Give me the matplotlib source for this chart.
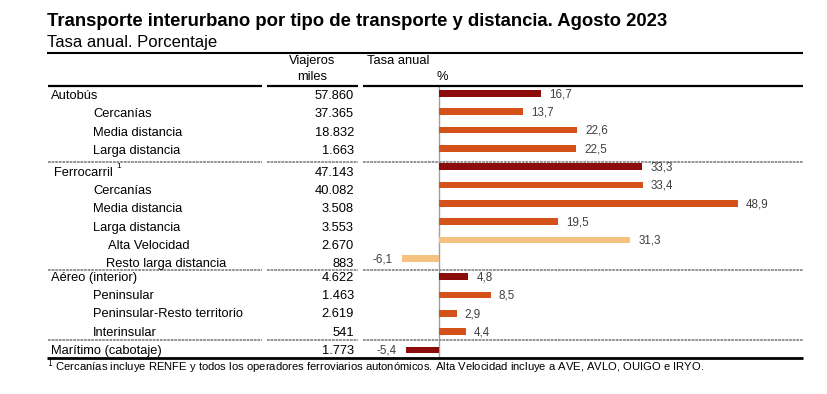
import numpy as np
import matplotlib
matplotlib.use('Agg')
import matplotlib.pyplot as plt
from matplotlib.transforms import blended_transform_factory

plt.rcParams['font.family'] = ['Liberation Sans', 'DejaVu Sans']

# ── Data ──────────────────────────────────────────────────────────────
labels = ['Autobús', 'Cercanías', 'Media distancia', 'Larga distancia',
          'Ferrocarril', 'Cercanías', 'Media distancia', 'Larga distancia',
          'Alta Velocidad', 'Resto larga distancia',
          'Aéreo (interior)', 'Peninsular', 'Peninsular-Resto territorio',
          'Interinsular', 'Marítimo (cabotaje)']
viajeros = ['57.860', '37.365', '18.832', '1.663',
            '47.143', '40.082', '3.508', '3.553', '2.670', '883',
            '4.622', '1.463', '2.619', '541', '1.773']
tasa = [16.7, 13.7, 22.6, 22.5,
        33.3, 33.4, 48.9, 19.5, 31.3, -6.1,
        4.8, 8.5, 2.9, 4.4, -5.4]
level = [0, 1, 1, 1,
         0, 1, 1, 1, 2, 2,
         0, 1, 1, 1, 0]
group = [0, 0, 0, 0, 1, 1, 1, 1, 1, 1, 2, 2, 2, 2, 3]

# ── Layout (pixels of an 827x394 canvas) ──────────────────────────────
W, H = 827, 394
X0 = 439            # zero of the bar scale
S = 6.11            # px per percentage point
L, R = 47, 803
Y_TOP, Y_BOT = 86, 358
ROW0, ROWH = 93.3, 18.33
FS = 9.3            # table font size

COL_DARK = '#8c0c0c'
COL_MID = '#d4521a'
COL_LIGHT = '#f5c282'
indent = {0: 51, 1: 93, 2: 108}
txt_shift = {0: 0.14, 1: 0.33, 2: 0.06, 3: 0.06}

fig = plt.figure(figsize=(W / 100, H / 100), dpi=100)
ax = fig.add_axes([L / W, 1 - Y_BOT / H, (R - L) / W, (Y_BOT - Y_TOP) / H])
ax.set_xlim((L - X0) / S, (R - X0) / S)
ax.set_ylim((Y_BOT - ROW0) / ROWH, (Y_TOP - ROW0) / ROWH)
ax.axis('off')

tr = blended_transform_factory(fig.transFigure, ax.transData)
px = lambda p: p / W

rows = np.arange(len(labels))
cols = [COL_LIGHT if lv == 2 else (COL_DARK if lv == 0 else COL_MID)
        for lv in level]
ax.barh(rows, tasa, height=0.37, color=cols, zorder=3)
ax.axvline(0, color='#a0a0a0', lw=1.0, zorder=2)

for r, v in zip(rows, tasa):
    s = f'{v:.1f}'.replace('.', ',')
    if v >= 0:
        ax.annotate(s, (v, r), xytext=(8, -1), textcoords='offset pixels',
                    ha='left', va='center', fontsize=8.4, color='#404040')
    else:
        ax.annotate(s, (v, r), xytext=(-9, -1), textcoords='offset pixels',
                    ha='right', va='center', fontsize=8.4, color='#404040')

for r, (lab, num, lv, g) in enumerate(zip(labels, viajeros, level, group)):
    y = r + txt_shift[g]
    x = indent[lv]
    if lab == 'Ferrocarril':
        x = 54
    if lab == 'Resto larga distancia':
        x = 106
    ax.text(px(x), y, lab, transform=tr, ha='left', va='center', fontsize=FS)
    ax.text(px(354), y, num, transform=tr, ha='right', va='center', fontsize=FS)
ax.text(px(116), 4 + txt_shift[1] - 0.33, '1', transform=tr, ha='left',
        va='center', fontsize=6)

# separators
segs = [(48, 262), (267, 358), (363, 803)]
for ysep in [3.73, 9.64, 13.47]:
    for a, b in segs:
        ax.plot([px(a), px(b)], [ysep, ysep], transform=tr, color='#8a8a8a',
                lw=1.3, ls=(0, (1.5, 0.5)), clip_on=False)
y_head = (Y_TOP - ROW0) / ROWH
for a, b in segs:
    ax.plot([px(a), px(b)], [y_head, y_head], transform=tr, color='black',
            lw=1.6, clip_on=False, solid_capstyle='butt')
y_bot = (Y_BOT - ROW0) / ROWH
ax.plot([px(L), px(R)], [y_bot, y_bot], transform=tr, color='black',
        lw=2.0, clip_on=False, solid_capstyle='butt')

# header / titles
fig.text(px(47), 1 - 21 / H, 'Transporte interurbano por tipo de transporte y distancia. Agosto 2023',
         fontsize=13.3, fontweight='bold', ha='left', va='center')
fig.text(px(47), 1 - 42 / H, 'Tasa anual. Porcentaje', fontsize=12,
         ha='left', va='center')
fig.add_artist(plt.Line2D([px(L), px(R)], [1 - 52.5 / H, 1 - 52.5 / H],
                          color='black', lw=1.5, solid_capstyle='butt'))
fig.text(px(312), 1 - 61 / H, 'Viajeros', fontsize=FS, ha='center', va='center')
fig.text(px(312), 1 - 77 / H, 'miles', fontsize=FS, ha='center', va='center')
fig.text(px(398), 1 - 61 / H, 'Tasa anual', fontsize=FS, ha='center', va='center')
fig.text(px(442), 1 - 77 / H, '%', fontsize=FS, ha='center', va='center')

fig.text(px(47), 1 - 367 / H,
         r'$^{1}$' + ' Cercanías incluye RENFE y todos los operadores ferroviarios '
         'autonómicos. Alta Velocidad incluye a AVE, AVLO, OUIGO e IRYO.',
         fontsize=8.1, ha='left', va='center')

fig.savefig('out.png', dpi=100)
